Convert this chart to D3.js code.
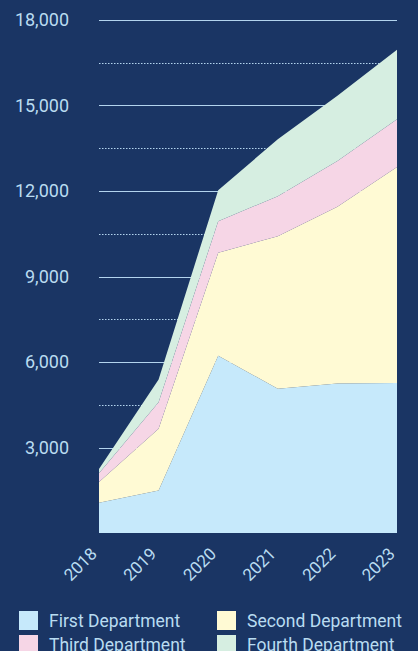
<!DOCTYPE html>
<html>
<head>
<meta charset="utf-8">
<script src="https://cdn.jsdelivr.net/npm/d3@7"></script>
<style>
  html, body { margin: 0; padding: 0; background: #1a3564; }
  svg { display: block; }
  text { font-family: Roboto, "Noto Sans", sans-serif; fill: #b9dcf1; }
</style>
</head>
<body>
<svg id="chart" width="418" height="651"></svg>
<script>
// chart data
const years = ["2018", "2019", "2020", "2021", "2022", "2023"];
const seriesNames = ["First Department", "Second Department", "Third Department", "Fourth Department"];
const first  = [1060, 1490, 6220, 5060, 5250, 5260];
const second = [730, 2170, 3610, 5355, 6200, 7580];
const third  = [305, 925, 1110, 1405, 1605, 1680];
const fourth = [150, 800, 1090, 1995, 2285, 2440];
const colors = ["#c6e9fb", "#fffad4", "#f6d6e6", "#d6eee1"];
const majorTicks = [3000, 6000, 9000, 12000, 15000, 18000];
const minorTicks = [4500, 7500, 10500, 13500, 16500];

const svg = d3.select("#chart");
let margin = {top: 20, right: 21, bottom: 118, left: 99};
let width = 418 - margin.left - margin.right;
let height = 651 - margin.top - margin.bottom;

let rows = years.map((y, i) => ({year: y, s0: first[i], s1: second[i], s2: third[i], s3: fourth[i]}));
let stack = d3.stack().keys(["s0", "s1", "s2", "s3"]);
let layers = stack(rows);

let x = d3.scalePoint().domain(years).range([margin.left, margin.left + width]);
let y = d3.scaleLinear().domain([0, 18000]).range([margin.top + height, margin.top]);

// grid lines (behind areas)
svg.append("g").selectAll("line.major")
  .data(majorTicks)
  .join("line")
    .attr("x1", margin.left).attr("x2", margin.left + width)
    .attr("y1", d => Math.round(y(d)) + 0.5).attr("y2", d => Math.round(y(d)) + 0.5)
    .attr("stroke", "#b3d4ee").attr("stroke-width", 1);

svg.append("g").selectAll("line.minor")
  .data(minorTicks)
  .join("line")
    .attr("x1", margin.left).attr("x2", margin.left + width)
    .attr("y1", d => Math.round(y(d)) + 0.5).attr("y2", d => Math.round(y(d)) + 0.5)
    .attr("stroke", "#b3d4ee").attr("stroke-width", 1)
    .attr("stroke-dasharray", "1.5,1.5");

let area = d3.area()
  .x(d => x(d.data.year))
  .y0(d => y(d[0]))
  .y1(d => y(d[1]));

svg.append("g").selectAll("path")
  .data(layers)
  .join("path")
    .attr("d", area)
    .attr("fill", (d, i) => colors[i]);

// y axis labels
svg.append("g").selectAll("text")
  .data(majorTicks)
  .join("text")
    .attr("x", 69)
    .attr("y", d => y(d) + 6)
    .attr("text-anchor", "end")
    .style("font-size", "18px")
    .text(d => d3.format(",")(d));

// x axis labels
svg.append("g").selectAll("text")
  .data(years)
  .join("text")
    .attr("transform", d => `translate(${x(d) - 1},${margin.top + height + 22}) rotate(-45)`)
    .attr("text-anchor", "end")
    .style("font-size", "17px")
    .text(d => d);

// legend
let legend = svg.append("g").selectAll("g")
  .data(seriesNames)
  .join("g")
    .attr("transform", (d, i) => `translate(${19 + (i % 2) * 198},${611 + Math.floor(i / 2) * 24})`);
legend.append("rect")
  .attr("width", 19).attr("height", 19)
  .attr("fill", (d, i) => colors[i]);
legend.append("text")
  .attr("x", 30).attr("y", 16)
  .style("font-size", "17.5px")
  .text(d => d);
</script>
</body>
</html>
